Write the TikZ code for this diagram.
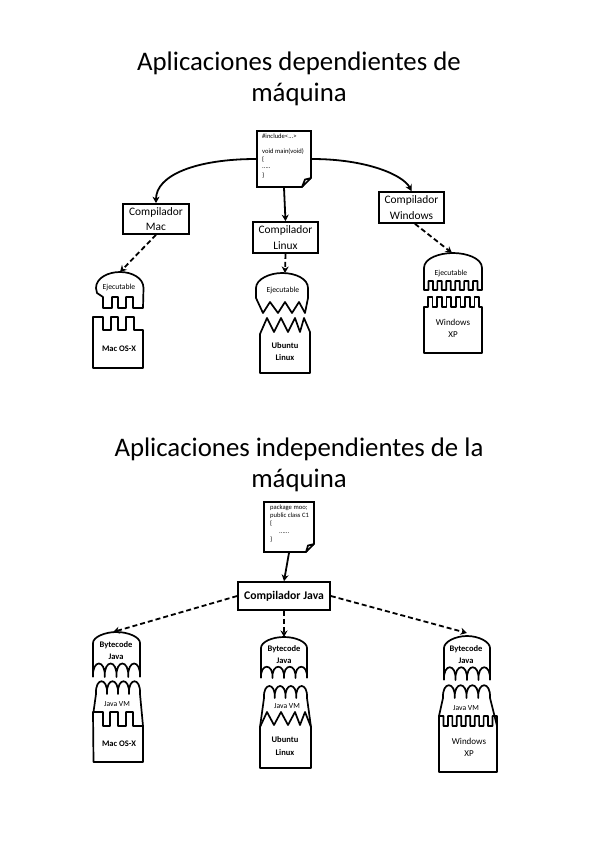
\documentclass[tikz,border=0pt]{standalone}
\usepackage{fontspec}
\setmainfont{Carlito}
\usetikzlibrary{arrows.meta}
\tikzset{
  x=1pt,y=-1pt,
  title/.style={inner sep=0pt,font=\fontsize{26.8}{30}\selectfont},
  comp/.style={draw,line width=1.7pt,fill=white,inner sep=0pt,align=center,font=\fontsize{11.4}{15.5}\selectfont},
  doc/.style={draw,line width=1.7pt,inner sep=0pt,minimum width=0pt},
  shapeline/.style={line width=1.7pt,line join=round},
  lab/.style={inner sep=0pt,align=center,font=\fontsize{7.7}{11}\selectfont},
  blab/.style={inner sep=0pt,align=center,font=\fontsize{8.5}{12.5}\selectfont\bfseries},
  wlab/.style={inner sep=0pt,align=center,font=\fontsize{9}{12.5}\selectfont},
  code/.style={inner sep=0pt,anchor=west,font=\fontsize{6.6}{7}\selectfont},
  solidarrow/.style={line width=1.8pt,-{Stealth[length=6.5pt,width=7pt]}},
  dasharrow/.style={line width=1.8pt,dash pattern=on 5pt off 3pt,-{Stealth[length=6.5pt,width=7pt]}},
}
\begin{document}
\begin{tikzpicture}
\useasboundingbox (0,0) rectangle (599,848);
\fill[white] (0,0) rectangle (599,848);

% titles
\node[title] (t1a) at (299,63) {Aplicaciones dependientes de};
\node[title] (t1b) at (299,94) {máquina};
\node[title] (t2a) at (299,449) {Aplicaciones independientes de la};
\node[title] (t2b) at (299,480) {máquina};

% source file 1
\node[doc,minimum width=54pt,minimum height=56pt] (doc1) at (284,159) {};
\fill[white] (302,188) -- (312,188) -- (312,178) -- cycle;
\draw[shapeline] (302,187) -- (311,178) -- (305,179.5) -- (302,187) -- (257,187);
\node[code] (c1) at (262,136) {\#include<...>};
\node[code] (c2) at (262,152) {void main(void)};
\node[code] (c3) at (262,160) {\{};
\node[code] (c4) at (262,168) {.....};
\node[code] (c5) at (262,176) {\}};

% compilers, first part
\node[comp,minimum width=66pt,minimum height=30pt] (cmac) at (156,219) {Compilador\\Mac};
\node[comp,minimum width=65pt,minimum height=31pt] (clin) at (285.5,237.5) {Compilador\\Linux};
\node[comp,minimum width=65pt,minimum height=31pt] (cwin) at (411.5,207.5) {Compilador\\Windows};

% Mac executable and OS
\draw[shapeline] (96,288) .. controls (96,278) and (108,272) .. (120,272)
  .. controls (132,272) and (143.5,278) .. (143.5,288) -- (143,308) -- (133,308) -- (133,297) -- (126,297) -- (126,308) -- (118,308)
  -- (118,297) -- (112,297) -- (112,308) -- (103,308) -- (103,297) -- (97,293) -- cycle;
\coordinate (emac) at (120,272);
\node[lab] (lemac) at (119,287) {Ejecutable};
\draw[shapeline] (93,317) -- (103,317) -- (103,330) -- (111,330) -- (111,317) -- (118,317) -- (118,330) -- (126,330) -- (126,317) -- (134,317) -- (134,330) -- (143,330) -- (143,368) -- (93,368) -- cycle;
\node[blab] (lomac) at (119,349) {Mac OS-X};

% Linux executable and OS
\draw[shapeline] (256,288) .. controls (256,279) and (270,273) .. (282,273)
  .. controls (296,273) and (308,279) .. (308,288) -- (308,298) -- (305,313) -- (299,302) -- (292,313) -- (285,302) -- (278,313) -- (270,302) -- (263,313) -- (256,298) -- cycle;
\coordinate (elin) at (285,273);
\node[lab] (lelin) at (283,290) {Ejecutable};
\draw[shapeline] (260,334) -- (267,318) -- (274,332) -- (281,318) -- (288,332) -- (295,318) -- (300,332) -- (304,318) -- (310,332) -- (310,373) -- (260,373) -- cycle;
\node[blab] (lolin) at (285,351.5) {Ubuntu\\Linux};

% Windows executable and OS
\draw[shapeline] (424,268) .. controls (424,258) and (440,253) .. (453,253)
  .. controls (466,253) and (482,258) .. (482,268) -- (482,290) -- (477.5,290)
  \foreach \i in {1,...,6} { -- ++(0,-9) -- ++(-4.46,0) -- ++(0,9) -- ++(-4.46,0) } -- (424,290) -- cycle;
\coordinate (ewin) at (452,253);
\node[lab] (lewin) at (451,273) {Ejecutable};
\draw[shapeline] (428,307) -- (428,297)
  \foreach \i in {1,...,5} { -- ++(4.64,0) -- ++(0,10) -- ++(4.64,0) -- ++(0,-10) } -- ++(4.64,0) -- ++(0,10) -- (482,307) -- (482,353) -- (424,353) -- (424,307) -- cycle;
\node[wlab] (lowin) at (453,328.5) {Windows\\XP};

% connectors, first part
\draw[solidarrow] (doc1.west) .. controls +(-60,0) and +(0,-28) .. (cmac.north);
\draw[solidarrow] (doc1.south) -- (clin.north);
\draw[solidarrow] (doc1.east) .. controls +(55,0) and +(-8,-16) .. (cwin.north);
\draw[dasharrow] (cmac.south) -- (emac);
\draw[dasharrow] (clin.south) -- (elin);
\draw[dasharrow] (cwin.south) ++(3.5,0) coordinate (cwinb) (cwinb) -- (ewin);

% source file 2
\node[doc,minimum width=50pt,minimum height=50pt] (doc2) at (289,527) {};
\fill[white] (306,553) -- (315,553) -- (315,544) -- cycle;
\draw[shapeline] (306,552) -- (314,544) -- (308,545.5) -- (306,552) -- (264,552);
\node[code] (p1) at (270,507.5) {package moo;};
\node[code] (p2) at (270,516) {public class C1};
\node[code] (p3) at (270,524) {\{};
\node[code] (p4) at (279,533) {......};
\node[code] (p5) at (270,540) {\}};

% Java compiler
\node[comp,font=\fontsize{11.7}{15}\selectfont\bfseries,minimum width=92pt,minimum height=28pt] (cjava) at (284,596) {Compilador Java};

% stack 1
\draw[shapeline] (93,677) -- (93,643) .. controls (93,637) and (105,632) .. (116.5,632)
  .. controls (128,632) and (140,637) .. (140,643) -- (140,677);
\draw[shapeline] (93,677) \foreach \i in {1,...,4} { .. controls +(-1,-18) and +(1,-18) .. ++(11.75,0) };
\coordinate (bmac) at (113,632);
\node[blab] (bm) at (116,650.5) {Bytecode\\Java};
\draw[shapeline] (96,694) \foreach \i in {1,...,4} { .. controls +(-1,-17) and +(1,-17) .. ++(11,0) };
\draw[shapeline] (96,694) -- (93.5,712);
\draw[shapeline] (140,694) -- (143,726);
\node[lab] (jm) at (117,704) {Java VM};
\draw[shapeline] (93,712) -- (103,712) -- (103,726) -- (110,726) -- (110,712) -- (118,712) -- (118,726) -- (126,726) -- (126,712) -- (133,712) -- (133,726) -- (143,726) -- (143,762) -- (93.5,762) -- cycle;
\node[blab] (om) at (119,744) {Mac OS-X};

% stack 2
\draw[shapeline] (261,678) -- (261,648) .. controls (261,642) and (272,637) .. (284,637)
  .. controls (296,637) and (307,642) .. (307,648) -- (307,678);
\draw[shapeline] (261,678) \foreach \i in {1,...,4} { .. controls +(-1,-15) and +(1,-15) .. ++(11.5,0) };
\coordinate (blin) at (284,637);
\node[blab] (bl) at (284,654.5) {Bytecode\\Java};
\draw[shapeline] (264,698) \foreach \i in {1,...,4} { .. controls +(-1,-16) and +(1,-16) .. ++(10.75,0) };
\draw[shapeline] (264,698) -- (260,727);
\draw[shapeline] (307,698) -- (311,727);
\node[lab] (jl) at (287,706) {Java VM};
\draw[shapeline] (260,727) -- (267,712) -- (274,725) -- (281,712) -- (288,725) -- (295,712) -- (300,725) -- (305,712) -- (311,727) -- (311,768) -- (260,768) -- cycle;
\node[blab] (ol) at (285,746) {Ubuntu\\Linux};

% stack 3
\draw[shapeline] (444,680) -- (444,648) .. controls (444,642) and (455,636) .. (467,636)
  .. controls (479,636) and (490,642) .. (490,648) -- (490,680);
\draw[shapeline] (444,680) \foreach \i in {1,...,4} { .. controls +(-1,-17) and +(1,-17) .. ++(11.5,0) };
\coordinate (bwin) at (467,633);
\node[blab] (bw) at (466,654.5) {Bytecode\\Java};
\draw[shapeline] (443,698) \foreach \i in {1,...,4} { .. controls +(-1,-17) and +(1,-17) .. ++(11.75,0) };
\draw[shapeline] (443,698) -- (439,716);
\draw[shapeline] (490,698) -- (497,726);
\node[lab] (jw) at (466,708) {Java VM};
\draw[shapeline] (439,726) \foreach \i in {1,...,6} { -- ++(0,-10) -- ++(4.46,0) -- ++(0,10) -- ++(4.46,0) } -- ++(0,-10) -- ++(4.46,0) -- (497,726) -- (497,772) -- (439,772) -- cycle;
\node[wlab] (ow) at (469,747.5) {Windows\\XP};

% connectors, second part
\draw[solidarrow] (doc2.south) -- (cjava.north);
\draw[dasharrow] (cjava.west) -- (bmac);
\draw[dasharrow] (cjava.south) -- (blin);
\draw[dasharrow] (cjava.east) -- (bwin);
\end{tikzpicture}
\end{document}
